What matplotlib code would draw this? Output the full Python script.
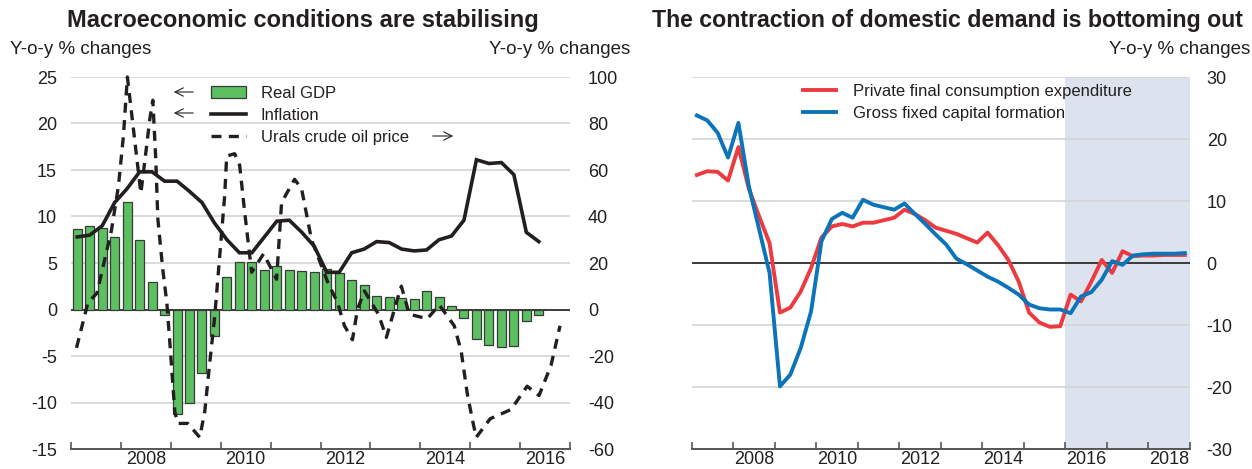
import numpy as np
import pandas as pd
import matplotlib
matplotlib.use("Agg")
import matplotlib.pyplot as plt
from matplotlib.ticker import FixedLocator

plt.rcParams['font.family'] = ['Liberation Sans', 'DejaVu Sans']
plt.rcParams['axes.unicode_minus'] = False
TXT = '#231f20'
plt.rcParams['text.color'] = TXT
plt.rcParams['xtick.color'] = TXT
plt.rcParams['ytick.color'] = TXT

# ---------------- left panel data (quarterly, 2007Q1 - 2016Q2) ----------------
left_quarters = pd.period_range('2007Q1', '2016Q2', freq='Q')
real_gdp = [8.7, 9.0, 8.8, 7.8, 11.6, 7.5, 3.0, -0.6,
            -11.2, -10.0, -6.8, -2.9, 3.5, 5.1, 5.1, 4.3,
            4.7, 4.2, 4.1, 4.0, 4.4, 3.9, 3.2, 2.6,
            1.4, 1.3, 1.25, 1.15, 2.0, 1.3, 0.4, -0.9,
            -3.15, -3.8, -4.0, -3.9, -1.2, -0.6]
inflation = [7.8, 8.0, 9.0, 11.5, 13.0, 14.8, 14.8, 13.8,
             13.8, 12.7, 11.5, 9.3, 7.5, 6.1, 6.1, 7.8,
             9.5, 9.6, 8.3, 6.8, 4.0, 4.0, 6.1, 6.5,
             7.3, 7.2, 6.5, 6.3, 6.4, 7.5, 7.9, 9.6,
             16.1, 15.7, 15.8, 14.5, 8.3, 7.3]

# Urals crude oil price, y-o-y % (right axis), read at turning points
oil_dates = [2007.11, 2007.34, 2007.52, 2007.81, 2007.95, 2008.05, 2008.13, 2008.40,
             2008.48, 2008.58, 2008.64, 2008.70, 2008.74, 2008.84, 2008.92, 2008.98,
             2009.08, 2009.14, 2009.34, 2009.58, 2009.68, 2009.78, 2009.88, 2009.98,
             2010.08, 2010.12, 2010.28, 2010.38, 2010.48, 2010.62, 2010.86, 2011.12,
             2011.22, 2011.48, 2011.62, 2011.82, 2012.14, 2012.34, 2012.48, 2012.64,
             2012.74, 2012.88, 2013.16, 2013.32, 2013.52, 2013.62, 2013.78, 2014.14,
             2014.38, 2014.68, 2014.82, 2014.94, 2015.04, 2015.12, 2015.40, 2015.82,
             2016.14, 2016.38, 2016.62, 2016.80]
oil_price = [-16.5, 3, 7, 34, 53, 74.5, 100, 50,
             64, 82, 90, 64, 39, 17, 3, -14,
             -44, -49, -49, -55, -44, -23, -3, 23,
             49, 66, 67, 62, 42, 16, 24, 13,
             46, 56, 52, 30, 12, 3, -7, -13,
             0, 8, -2, -12, 3, 10, -2, -4,
             2, -7, -18, -36, -47, -55, -47, -43,
             -33, -37, -24, -7]

# ---------------- right panel data (quarterly, 2007Q1 - 2018Q4) ----------------
right_quarters = pd.period_range('2007Q1', '2018Q4', freq='Q')
consumption = [14.2, 14.8, 14.7, 13.3, 18.7, 12.0, 7.5, 3.2,
               -8.0, -7.2, -4.6, -0.8, 4.1, 5.9, 6.3, 5.9,
               6.5, 6.5, 6.9, 7.3, 8.6, 7.9, 6.9, 5.7,
               5.2, 4.7, 4.0, 3.3, 4.9, 2.9, 0.5, -3.0,
               -8.0, -9.6, -10.3, -10.2, -5.1, -6.2, -3.0, 0.5,
               -1.6, 1.9, 1.1, 1.2, 1.2, 1.3, 1.3, 1.3]
investment = [23.8, 23.0, 21.0, 17.0, 22.6, 12.4, 5.4, -1.6,
              -19.9, -18.0, -13.7, -7.8, 3.5, 7.1, 8.1, 7.3,
              10.2, 9.4, 9.0, 8.6, 9.6, 7.9, 6.3, 4.6,
              3.0, 0.7, -0.2, -1.2, -2.2, -3.0, -4.0, -5.1,
              -6.7, -7.3, -7.5, -7.5, -8.1, -5.4, -4.7, -2.7,
              0.3, -0.3, 1.2, 1.4, 1.5, 1.5, 1.5, 1.6]
forecast_start = 2016
forecast_end = 2019


def qpos(periods):
    # centre of each quarter in decimal years
    return np.array([p.year + (p.quarter - 1) / 4 + 0.125 for p in periods])


W, H = 1252, 469
fig = plt.figure(figsize=(W / 100, H / 100), dpi=100)

GRID = '#d4d4d4'
AXC = '#4a4a4a'
FS = 13      # tick labels
FS_LEG = 12  # legend text
FS_UNIT = 13.5


def style_bottom(ax, x0, x1):
    for s in ['top', 'left', 'right']:
        ax.spines[s].set_visible(False)
    ax.spines['bottom'].set_color(AXC)
    ax.spines['bottom'].set_linewidth(1.3)
    ax.set_xlim(x0, x1)
    ax.xaxis.set_major_locator(FixedLocator(np.arange(x0, x1 + 1)))
    ax.tick_params(axis='x', which='major', direction='in', length=5, width=1.1,
                   color=AXC, labelbottom=False)
    yrs = np.arange(x0 + 1, x1, 2)
    ax.xaxis.set_minor_locator(FixedLocator(yrs + 0.5))
    ax.set_xticklabels([str(y) for y in yrs], minor=True)
    ax.tick_params(axis='x', which='minor', length=0, pad=1.5, labelsize=FS)


# ================= left panel =================
ax1 = fig.add_axes([71 / W, 1 - 449 / H, 499 / W, 372 / H])
style_bottom(ax1, 2007, 2017)
ax1.set_ylim(-15, 25)
ax1.set_yticks(np.arange(-15, 26, 5))
ax1.tick_params(axis='y', length=0, pad=10, labelsize=FS)
ax1.set_axisbelow(True)
ax1.yaxis.grid(True, color=GRID, lw=1.2)
ax1.axhline(0, color=TXT, lw=1.2, zorder=1.5)

xl = qpos(left_quarters)
bars = ax1.bar(xl, real_gdp, width=0.18, color='#5cbf60', edgecolor='#3a3a3a',
               linewidth=0.9, zorder=2)
line_inf, = ax1.plot(xl, inflation, color=TXT, lw=2.6, zorder=3,
                     solid_joinstyle='miter')

ax2 = ax1.twinx()
for s in ['top', 'left', 'right', 'bottom']:
    ax2.spines[s].set_visible(False)
ax2.set_ylim(-60, 100)
ax2.set_yticks(np.arange(-60, 101, 20))
ax2.tick_params(axis='y', length=0, pad=13, labelsize=FS)
line_oil, = ax2.plot(oil_dates, oil_price, color=TXT, lw=2.4, dashes=(3, 2.2),
                     clip_on=False, zorder=3)

fig.legend([bars, line_inf, line_oil],
           ['Real GDP', 'Inflation', 'Urals crude oil price'],
           loc='upper left', bbox_to_anchor=(211 / W, 1 - 86 / H),
           bbox_transform=fig.transFigure, frameon=False, borderpad=0,
           borderaxespad=0, handlelength=2.1, handletextpad=0.9,
           labelspacing=0.42, fontsize=FS_LEG)


def arrow(x0, x1, y):
    fig.add_artist(matplotlib.patches.FancyArrowPatch(
        (x0 / W, 1 - y / H), (x1 / W, 1 - y / H), transform=fig.transFigure,
        arrowstyle='->,head_length=6,head_width=3', lw=0.8, color=TXT,
        mutation_scale=1))


arrow(196, 171, 92)
arrow(196, 171, 113)
arrow(430, 456, 136)

fig.text(10 / W, 1 - 50 / H, 'Y-o-y % changes', fontsize=FS_UNIT, va='center', ha='left')
fig.text(630 / W, 1 - 50 / H, 'Y-o-y % changes', fontsize=FS_UNIT, va='center', ha='right')
fig.text(303 / W, 1 - 20 / H, 'Macroeconomic conditions are stabilising',
         fontsize=17, fontweight='bold', ha='center', va='center')

# ================= right panel =================
ax3 = fig.add_axes([691.7 / W, 1 - 449 / H, 498.3 / W, 372 / H])
style_bottom(ax3, 2007, 2019)
ax3.set_ylim(-30, 30)
ax3.set_yticks(np.arange(-30, 31, 10))
ax3.yaxis.tick_right()
ax3.tick_params(axis='y', length=0, pad=12, labelsize=FS)
ax3.set_axisbelow(True)
ax3.yaxis.grid(True, color=GRID, lw=1.2)
ax3.axvspan(forecast_start, forecast_end, color='#dde3ee', lw=0, zorder=0.2)
ax3.axhline(0, color=TXT, lw=1.2, zorder=1.5)

xr = qpos(right_quarters)
l_c, = ax3.plot(xr, consumption, color='#ec3b40', lw=2.8, zorder=3)
l_i, = ax3.plot(xr, investment, color='#0c74b9', lw=2.8, zorder=3)

fig.legend([l_c, l_i],
           ['Private final consumption expenditure', 'Gross fixed capital formation'],
           loc='upper left', bbox_to_anchor=(803 / W, 1 - 84 / H),
           bbox_transform=fig.transFigure, frameon=False, borderpad=0,
           borderaxespad=0, handlelength=2.0, handletextpad=1.0,
           labelspacing=0.4, fontsize=FS_LEG)

fig.text(1250 / W, 1 - 50 / H, 'Y-o-y % changes', fontsize=FS_UNIT, va='center', ha='right')
fig.text(947 / W, 1 - 20 / H, 'The contraction of domestic demand is bottoming out',
         fontsize=16.7, fontweight='bold', ha='center', va='center')

fig.savefig('out.png', dpi=100)
